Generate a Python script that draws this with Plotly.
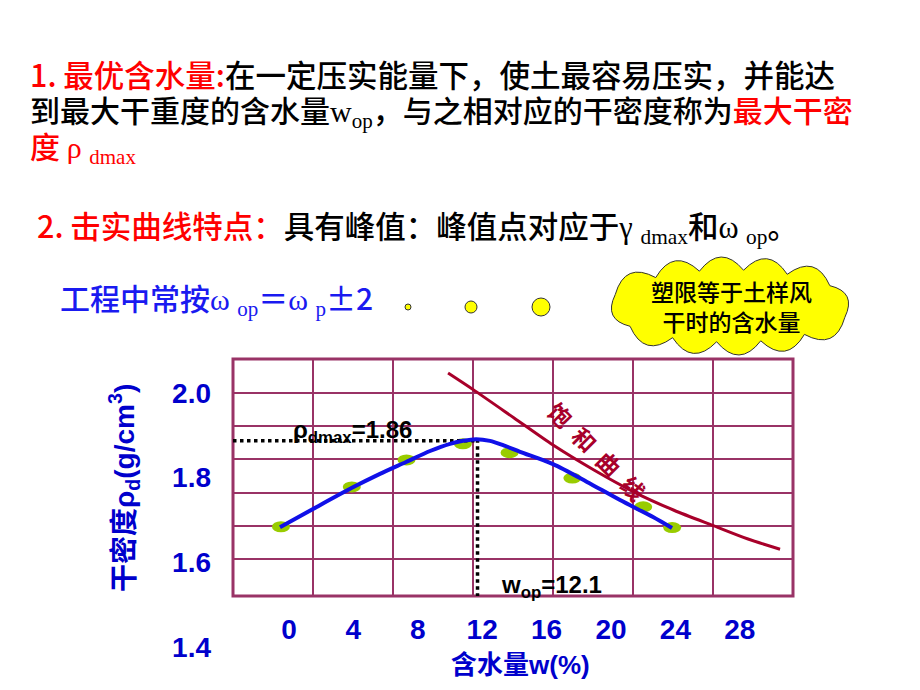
import numpy as np
import plotly.graph_objects as go

# ---------------- data ----------------
moisture_pts = [-0.5, 3.9, 7.3, 10.8, 13.7, 17.6, 22.0, 23.8]
density_pts = [1.684, 1.778, 1.842, 1.880, 1.859, 1.799, 1.731, 1.682]

compaction_w = [-0.56, 1.49, 3.91, 5.65, 7.27, 8.76, 10.0, 10.81, 11.61,
                12.48, 13.42, 14.35, 16.40, 18.51, 20.56, 22.61, 23.79]
compaction_rho = [1.683, 1.726, 1.776, 1.809, 1.837, 1.863, 1.880, 1.887, 1.891,
                  1.887, 1.875, 1.861, 1.832, 1.790, 1.747, 1.707, 1.681]

saturation_w = [9.88, 11.55, 13.98, 16.40, 18.94, 21.43, 23.91, 26.40, 28.51, 30.50]
saturation_rho = [2.047, 2.005, 1.941, 1.877, 1.818, 1.766, 1.723, 1.686, 1.655, 1.631]

x_tick_values = [0, 4, 8, 12, 16, 20, 24, 28]
x_tick_labels = ["0", "4", "8", "12", "16", "20", "24", "28"]
y_tick_values = [1.4, 1.6, 1.8, 2.0]
y_tick_labels = ["1.4", "1.6", "1.8", "2.0"]

rho_dmax_label = "1.86"
w_op_label = "12.1"

# ---------------- layout helpers ----------------
W, H = 920, 690
def fx(p):
    return p / W
def fy(p):
    return 1 - p / H

BLUE = "#0000CC"
LINE_BLUE = "#1010E8"
RED = "#FF0000"
DARK_RED = "#A8002A"
GRID = "#993366"
CJK = "Noto Sans CJK SC"
SANS = "Liberation Sans, Noto Sans CJK SC"
SERIF = "Liberation Serif"

X_MIN, X_MAX = -3.478, 31.304
Y_MIN, Y_MAX = 1.35743, 2.08032
BOX_BOTTOM = 1.52043

fig = go.Figure()

# peak of compaction curve -> guides
ip = int(np.argmax(compaction_rho))
peak_w, peak_rho = compaction_w[ip], compaction_rho[ip]

fig.add_trace(go.Scatter(x=[X_MIN, peak_w], y=[peak_rho - 0.004, peak_rho - 0.004], mode="lines",
                         line=dict(color="black", width=3.5, dash="dot"), hoverinfo="skip"))
fig.add_trace(go.Scatter(x=[peak_w + 0.1, peak_w + 0.1], y=[peak_rho, BOX_BOTTOM], mode="lines",
                         line=dict(color="black", width=3.5, dash="dot"), hoverinfo="skip"))
fig.add_trace(go.Scatter(x=compaction_w, y=compaction_rho, mode="lines",
                         line=dict(color=LINE_BLUE, width=4, shape="spline", smoothing=0.8),
                         hoverinfo="skip"))
fig.add_trace(go.Scatter(x=saturation_w, y=saturation_rho, mode="lines",
                         line=dict(color=DARK_RED, width=3, shape="spline", smoothing=0.8),
                         hoverinfo="skip"))

shapes = []
# grid + box
for i in range(8):
    xp = 233 + i * 80
    shapes.append(dict(type="line", xref="paper", yref="paper", x0=fx(xp), x1=fx(xp),
                       y0=fy(596), y1=fy(359), line=dict(color=GRID, width=2), layer="below"))
for yp in [393, 426, 459, 493, 526, 559]:
    shapes.append(dict(type="line", xref="paper", yref="paper", x0=fx(233), x1=fx(793),
                       y0=fy(yp), y1=fy(yp), line=dict(color=GRID, width=2), layer="below"))
shapes.append(dict(type="rect", xref="paper", yref="paper", x0=fx(233), x1=fx(793),
                   y0=fy(596), y1=fy(359), line=dict(color=GRID, width=3), layer="below"))
# green data dots (ellipses)
for w, r in zip(moisture_pts, density_pts):
    shapes.append(dict(type="circle", xref="x", yref="y", xsizemode="pixel", ysizemode="pixel",
                       xanchor=w, yanchor=r, x0=-9, x1=9, y0=-5.5, y1=5.5,
                       fillcolor="#99CC00", line=dict(width=0), layer="below"))

# yellow thought circles
for cxp, rad in [(408, 3), (471, 6), (541, 9)]:
    shapes.append(dict(type="circle", xref="paper", yref="paper", xsizemode="pixel", ysizemode="pixel",
                       xanchor=fx(cxp), yanchor=fy(307), x0=-rad, x1=rad, y0=-rad, y1=rad,
                       fillcolor="#FFFF00", line=dict(color="#333333", width=1)))

# cloud callout
cxc, cyc, rx, ry, nb = 730.0, 306.0, 121.0, 36.0, 12
t = np.linspace(0, 2 * np.pi, 2000)
ex, ey = cxc + rx * np.cos(t), cyc + ry * np.sin(t)
seg = np.hypot(np.diff(ex), np.diff(ey))
cum = np.concatenate([[0], np.cumsum(seg)])
targets = np.linspace(0, cum[-1], nb + 1)[:-1] + 0.3 * cum[-1] / nb
targets = targets % cum[-1]
idx = [int(np.searchsorted(cum, s)) % len(t) for s in targets]
pts = [(ex[k], ey[k]) for k in idx]
pts.sort(key=lambda p: np.arctan2(p[1] - cyc, p[0] - cxc))
path = ""
for k in range(len(pts)):
    x0, y0 = pts[k]
    x1, y1 = pts[(k + 1) % len(pts)]
    mx, my = (x0 + x1) / 2, (y0 + y1) / 2
    dx, dy = x1 - x0, y1 - y0
    L = np.hypot(dx, dy)
    nx, ny = dy / L, -dx / L
    if (mx + nx - cxc) ** 2 / rx ** 2 + (my + ny - cyc) ** 2 / ry ** 2 < (mx - cxc) ** 2 / rx ** 2 + (my - cyc) ** 2 / ry ** 2:
        nx, ny = -nx, -ny
    qx, qy = mx + nx * 0.62 * L, my + ny * 0.62 * L
    if k == 0:
        path += f"M {fx(x0):.5f},{fy(y0):.5f} "
    path += f"Q {fx(qx):.5f},{fy(qy):.5f} {fx(x1):.5f},{fy(y1):.5f} "
path += "Z"
shapes.append(dict(type="path", xref="paper", yref="paper", path=path,
                   fillcolor="#FFFF00", line=dict(color="#333333", width=1)))

annotations = []
def ann(text, x, y, size, color="black", family=CJK, xanchor="left", yanchor="middle", angle=0,
        weight="normal"):
    annotations.append(dict(text=text, x=fx(x), y=fy(y), xref="paper", yref="paper",
                            xanchor=xanchor, yanchor=yanchor, showarrow=False, textangle=angle,
                            font=dict(family=family, size=size, color=color, weight=weight)))

ann(f'<span style="color:{RED}">1. 最优含水量:</span>在一定压实能量下，使土最容易压实，并能达', 28, 74, 30.5, weight=500)
ann(f'到最大干重度的含水量<span style="font-family:{SERIF}">w<sub>op</sub></span>，与之相对应的干密度称为<span style="color:{RED}">最大干密</span>', 28, 110, 30, weight=500)
ann(f'<span style="color:{RED}">度 <span style="font-family:{SERIF}">ρ <sub>dmax</sub></span></span>', 28, 146, 30, weight=500)
ann(f'<span style="color:{RED}">2. 击实曲线特点：</span>具有峰值：峰值点对应于<span style="font-family:{SERIF}">γ <sub>dmax</sub></span>和<span style="font-family:{SERIF}">ω <sub>op</sub></span>。', 35, 226, 30.5, weight=500)
ann(f'工程中常按<span style="font-family:{SERIF}">ω <sub>op</sub></span>＝<span style="font-family:{SERIF}">ω <sub>p</sub></span>±2', 58, 298, 30, color="#1A1AF0", weight=500)
ann('塑限等于土样风<br>干时的含水量', 731, 306, 23, xanchor="center", weight=500)

ann(f'<b>ρ<sub>dmax</sub>=' + rho_dmax_label + '</b>', 291, 431, 24, family=SANS)
ann(f'<b>w<sub>op</sub>=' + w_op_label + '</b>', 499, 586, 24, family=SANS)
ann('<b>饱\u2002和\u2002曲\u2002线</b>', 597, 451, 23, color=DARK_RED, xanchor="center", angle=45)

ann('<b>含水量w(%)</b>', 520, 665, 26, color=BLUE, family=SANS, xanchor="center")
ann('<b>干密度ρ<sub>d</sub>(g/cm<sup>3</sup>)</b>', 124, 488, 28, color=BLUE, family=SANS,
    xanchor="center", angle=-90)

fig.update_layout(
    width=W, height=H, margin=dict(l=0, r=0, t=0, b=0),
    paper_bgcolor="white", plot_bgcolor="white", showlegend=False,
    xaxis=dict(domain=[fx(233), fx(793)], range=[X_MIN, X_MAX], tickvals=x_tick_values,
               ticktext=x_tick_labels, showgrid=False, zeroline=False, showline=False, ticks="",
               anchor="free", position=fy(596), ticklabelstandoff=14,
               tickfont=dict(family="Liberation Sans", size=28, color=BLUE, weight="bold")),
    yaxis=dict(domain=[fy(665), fy(359)], range=[Y_MIN, Y_MAX], tickvals=y_tick_values,
               ticktext=y_tick_labels, showgrid=False, zeroline=False, showline=False, ticks="",
               anchor="free", position=fx(233), ticklabelstandoff=22,
               tickfont=dict(family="Liberation Sans", size=28, color=BLUE, weight="bold")),
    shapes=shapes, annotations=annotations,
)

fig.write_html("out.html", config={"displayModeBar": False},
               post_script="document.body.style.margin='0';")
